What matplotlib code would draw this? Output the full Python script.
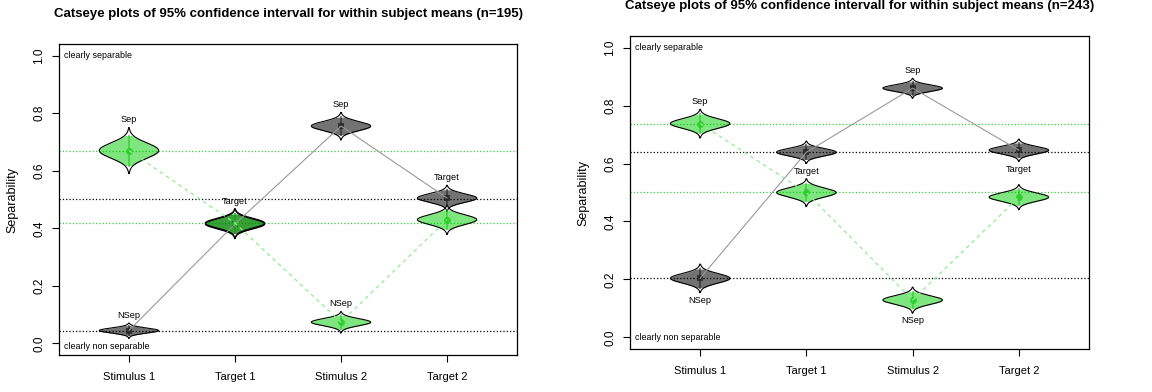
import numpy as np
import matplotlib
matplotlib.use('Agg')
import matplotlib.pyplot as plt

plt.rcParams['font.family'] = ['Liberation Sans', 'DejaVu Sans']

conditions = ['Stimulus 1', 'Target 1', 'Stimulus 2', 'Target 2']

# n=195: within subject means and 95% CI half widths
means_gray_195 = [0.045, 0.415, 0.755, 0.505]
ci_gray_195 = [0.017, 0.033, 0.031, 0.029]
means_green_195 = [0.670, 0.418, 0.074, 0.430]
ci_green_195 = [0.052, 0.033, 0.024, 0.033]
refs_gray_195 = [0.045, 0.503]
refs_green_195 = [0.670, 0.418]

# n=243
means_gray_243 = [0.204, 0.639, 0.860, 0.646]
ci_gray_243 = [0.032, 0.025, 0.022, 0.025]
means_green_243 = [0.738, 0.500, 0.129, 0.484]
ci_green_243 = [0.032, 0.031, 0.029, 0.028]
refs_gray_243 = [0.204, 0.639]
refs_green_243 = [0.738, 0.500]

# point labels (None = no label), +1 above the catseye, -1 below
labels_gray = ['NSep', 'Target', 'Sep', 'Target']
labels_green = ['Sep', None, 'NSep', None]
side_gray_195 = [1, 1, 1, 1]
side_green_195 = [1, 1, 1, 1]
side_gray_243 = [-1, -1, 1, -1]
side_green_243 = [1, 1, -1, 1]

HALF_W = 0.28
GRAY_FILL = (0, 0, 0, 0.55)
GREEN_FILL = (0, 0.8, 0, 0.5)


# one catseye: normal density mirrored, shaded inside the CI, tails to 3 SE
def catseye(ax, xc, m, ci, fill, mark, marker):
    se = ci / 1.96
    y = np.linspace(m - 3 * se, m + 3 * se, 301)
    d = HALF_W * np.exp(-0.5 * ((y - m) / se) ** 2)
    inner = np.abs(y - m) <= ci
    ax.fill_betweenx(y[inner], xc - d[inner], xc + d[inner], color=fill, lw=0, zorder=3)
    ax.plot(np.r_[xc - d, (xc + d)[::-1], xc - d[0]], np.r_[y, y[::-1], y[0]],
            color='black', lw=0.8, zorder=4)
    ax.plot([xc, xc], [m - ci, m + ci], color=mark, lw=1.4, alpha=0.6, zorder=5)
    ax.plot(xc, m, marker=marker, color=mark, ms=5, mew=0, alpha=0.8, zorder=5)


def label(ax, xc, m, ci, text, side):
    if text is None:
        return
    tip = m + side * 3 * ci / 1.96
    ax.annotate(text, (xc, tip), xytext=(0, 2.5 * side), textcoords='offset points',
                ha='center', va='bottom' if side > 0 else 'top', fontsize=6.6)


def panel(ax, mg, cg, mn, cn, rg, rn, sg, sn):
    x = np.arange(1, 5)
    for r in rg:
        ax.axhline(r, color='black', ls=':', lw=0.9, zorder=1)
    for r in rn:
        ax.axhline(r, color='limegreen', ls=':', lw=0.9, zorder=1)

    for i in range(4):
        catseye(ax, x[i], mg[i], cg[i], GRAY_FILL, '#222222', 's')
        catseye(ax, x[i], mn[i], cn[i], GREEN_FILL, '#22cc22', 'o')

    ax.plot(x, mg, color='#999999', lw=0.8, zorder=6)
    ax.plot(x, mn, color='#90ee90', lw=0.9, dashes=(3, 3), zorder=6)

    for i in range(4):
        label(ax, x[i], mg[i], cg[i], labels_gray[i], sg[i])
        label(ax, x[i], mn[i], cn[i], labels_green[i], sn[i])

    ax.set_xlim(0.34, 4.66)
    ax.set_ylim(-0.04, 1.04)
    ax.set_xticks(x)
    ax.set_xticklabels(conditions, fontsize=8)
    ax.set_yticks(np.arange(0, 1.01, 0.2))
    ax.set_yticklabels(['%.1f' % v for v in np.arange(0, 1.01, 0.2)],
                       fontsize=8.5, rotation=90, va='center')
    ax.tick_params(axis='x', length=5, width=0.8, pad=7)
    ax.tick_params(axis='y', length=5, width=0.8, pad=5)
    for s in ax.spines.values():
        s.set_linewidth(0.9)

    ax.text(0.39, 1.0, 'clearly separable', fontsize=6.4, va='center', ha='left')


fig = plt.figure(figsize=(11.52, 3.92), dpi=100)

ax1 = fig.add_axes([0.0512, 0.0944, 0.3976, 0.7934])
panel(ax1, means_gray_195, ci_gray_195, means_green_195, ci_green_195,
      refs_gray_195, refs_green_195, side_gray_195, side_green_195)
ax1.text(0.39, -0.012, 'clearly non separable', fontsize=6.4, va='center', ha='left')

ax2 = fig.add_axes([0.5469, 0.1097, 0.3984, 0.7985])
panel(ax2, means_gray_243, ci_gray_243, means_green_243, ci_green_243,
      refs_gray_243, refs_green_243, side_gray_243, side_green_243)
ax2.text(0.39, 0.0, 'clearly non separable', fontsize=6.4, va='center', ha='left')

fig.text(288 / 1152, 1 - 14 / 392, 'Catseye plots of 95% confidence intervall for within subject means (n=195)',
         ha='center', va='center', fontsize=9.5, fontweight='bold')
fig.text(860 / 1152, 1 - 6 / 392, 'Catseye plots of 95% confidence intervall for within subject means (n=243)',
         ha='center', va='center', fontsize=9.5, fontweight='bold')

fig.text(12 / 1152, 1 - 200 / 392, 'Separability', rotation=90, ha='center', va='center', fontsize=9)
fig.text(583 / 1152, 1 - 193 / 392, 'Separability', rotation=90, ha='center', va='center', fontsize=9)

fig.savefig('out.png', dpi=100)
